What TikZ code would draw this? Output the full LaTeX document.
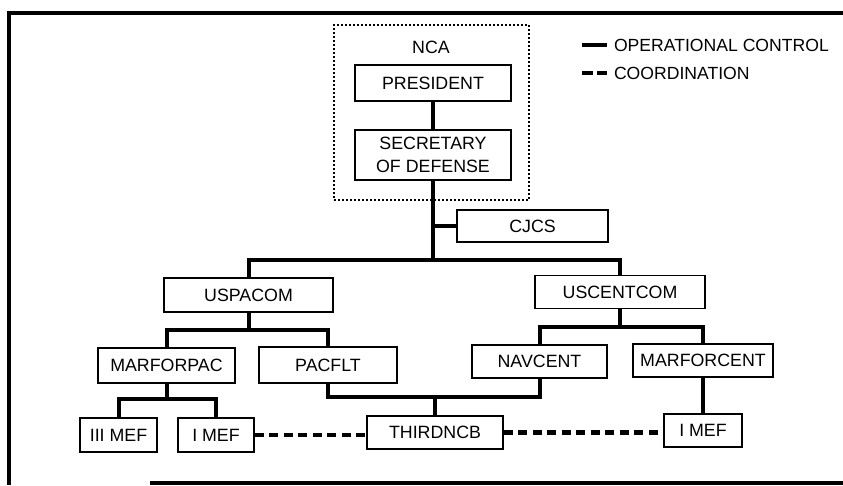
\documentclass[tikz,border=0pt]{standalone}
\usepackage{fontspec}
\setmainfont{Liberation Sans}
\usepackage{tikz}
\tikzset{unitnode/.style={rectangle, draw=black, line width=1.7pt, fill=white, inner sep=0pt,
align=center, font=\fontsize{17.8}{23}\selectfont},
opcon/.style={line width=4pt},
coordline/.style={line width=4.2pt, dash pattern=on 9pt off 5.5pt},
keytext/.style={rectangle, draw=none, inner sep=0pt, anchor=west, font=\fontsize{17.6}{20}\selectfont}}
\pgfdeclarelayer{background}
\pgfsetlayers{background,main}

\begin{document}
\begin{tikzpicture}[x=1pt,y=-1pt]
\coordinate (Upper) at (0,0);
\coordinate (Lower) at (843,485);
\useasboundingbox (Upper) rectangle (Lower);

%%Frame
\draw[line width=4.5pt] (843,13) -- (9,13) -- (9,485);
\draw[line width=4pt] (150,483) -- (843,483);

%%NCA
\node[draw, line width=2pt, dash pattern=on 2pt off 2pt, inner sep=0pt,
minimum width=195pt, minimum height=175pt] (NCAbox) at (431.5,112.5) {};
\node[font=\fontsize{17.8}{23}\selectfont, inner sep=0pt] (NCA) at (431,47) {NCA};

\begin{scope}[every node/.style={unitnode}]
\node[minimum width=156pt, minimum height=36pt] (President) at (433,83) {PRESIDENT};
\node[minimum width=156pt, minimum height=50pt] (SecDef) at (433,155) {SECRETARY\\OF DEFENSE};
\node[minimum width=151pt, minimum height=32pt] (CJCS) at (532.5,226) {CJCS};

\node[minimum width=169pt, minimum height=34pt] (USPACOM) at (248.5,295) {USPACOM};
\node[minimum width=170pt, minimum height=33pt] (USCENTCOM) at (620,292) {USCENTCOM};

\node[minimum width=137pt, minimum height=35pt] (MARFORPAC) at (166.5,365.5) {MARFORPAC};
\node[minimum width=138pt, minimum height=36pt] (PACFLT) at (328,365) {PACFLT};
\node[minimum width=135pt, minimum height=33pt] (NAVCENT) at (539.5,361.5) {NAVCENT};
\node[minimum width=140pt, minimum height=33pt] (MARFORCENT) at (703,360.5) {MARFORCENT};

\node[minimum width=77pt, minimum height=34pt] (IIIMEF) at (118.5,435) {III MEF};
\node[minimum width=76pt, minimum height=34pt] (IMEFpac) at (216,435) {I MEF};
\node[minimum width=136pt, minimum height=33pt] (THIRDNCB) at (435,432.5) {THIRDNCB};
\node[minimum width=78pt, minimum height=33pt] (IMEFcent) at (703,430.5) {I MEF};
\end{scope}

%%Joints
\coordinate (Trunk) at (433,260);
\coordinate (PacJoint) at (248.5,330);
\coordinate (CentJoint) at (620,327);
\coordinate (MarPacJoint) at (166.5,399);
\coordinate (NcbJoint) at (435,397);

%%Connectors
\begin{pgfonlayer}{background}
\draw[opcon] (President) -- (SecDef);
\draw[opcon] (SecDef) -- (Trunk);
\draw[opcon] (CJCS.west) -- (CJCS.west -| Trunk);
\draw[opcon] (USPACOM.north) |- (Trunk) -| (USCENTCOM.north);

\draw[opcon] (USPACOM) -- (PacJoint);
\draw[opcon] (MARFORPAC.north) |- (PacJoint) -| (PACFLT.north);
\draw[opcon] (USCENTCOM) -- (CentJoint);
\draw[opcon] (NAVCENT.north) |- (CentJoint) -| (MARFORCENT.north);

\draw[opcon] (MARFORPAC) -- (MarPacJoint);
\draw[opcon] (IIIMEF.north) |- (MarPacJoint) -| (IMEFpac.north);
\draw[opcon] (PACFLT.south) |- (NcbJoint) -| (NAVCENT.south);
\draw[opcon] (NcbJoint) -- (THIRDNCB.north);
\draw[opcon] (MARFORCENT) -- (IMEFcent);

\draw[coordline] (IMEFpac.east) -- (IMEFpac.east -| THIRDNCB.west);
\draw[coordline] (THIRDNCB.east) -- (THIRDNCB.east -| IMEFcent.west);
\end{pgfonlayer}

%%Key
\coordinate (OpconKey) at (582,45);
\coordinate (CoordKey) at (582,73);
\draw[opcon] (OpconKey) -- ++(25,0) node[keytext, xshift=5pt] (OpconText) {OPERATIONAL CONTROL};
\draw[line width=4pt, dash pattern=on 11pt off 4pt] (CoordKey) -- ++(25,0) node[keytext, xshift=5pt] (CoordText) {COORDINATION};

\end{tikzpicture}
\end{document}
